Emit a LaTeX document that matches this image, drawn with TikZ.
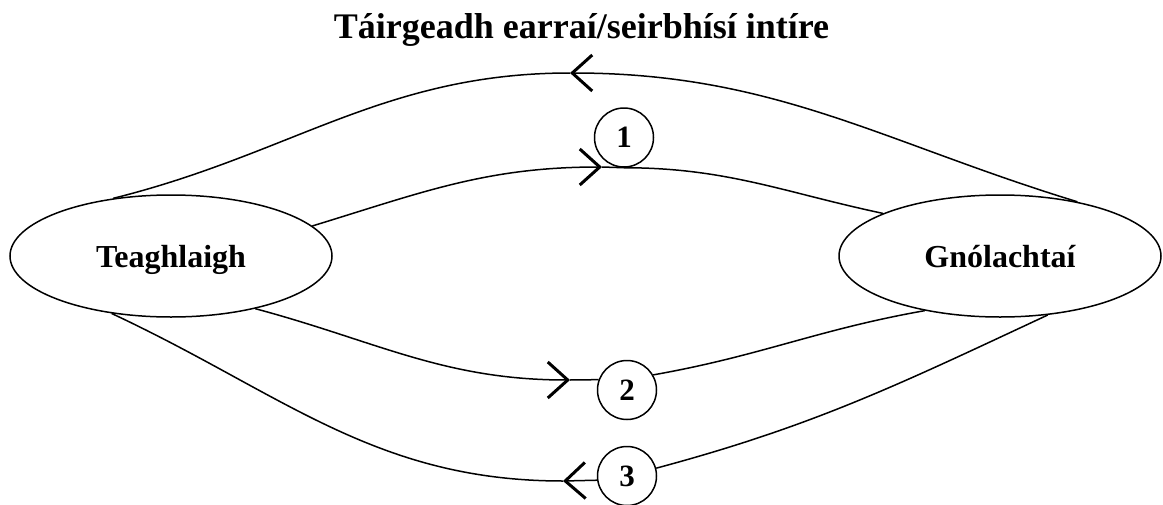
\documentclass[tikz,border=0pt]{standalone}
\usepackage{fontspec}
\setmainfont{Liberation Serif}
\usetikzlibrary{arrows.meta,shapes.geometric}

\begin{document}
\begin{tikzpicture}[x=0.5pt, y=-0.5pt,
        >={Straight Barb[length=10pt, width=18pt, line width=1.5pt]},
        flow/.style={line width=0.75pt},
        party/.style={draw, ellipse, line width=0.75pt, minimum width=161pt,
            minimum height=61pt, inner sep=0pt, text depth=0pt,
            font=\fontsize{16}{19}\selectfont\bfseries},
        num/.style={draw, circle, line width=0.75pt, minimum size=29.5pt,
            inner sep=0pt, font=\fontsize{15.5}{18}\selectfont\bfseries}]
        \useasboundingbox (0,0) rectangle (1163,504);

        \node [anchor=base, font=\fontsize{18}{22}\selectfont\bfseries] (title) at (581.5,38)
            {Táirgeadh earraí/seirbhísí intíre};
        \node [party] (home) at (171,256) {Teaghlaigh};
        \node [party] (firm) at (1000,256) {Gnólachtaí};
        \node [num] (one) at (624,137.5) {1};
        \node [num] (two) at (627,390) {2};
        \node [num] (three) at (627,476) {3};

        \coordinate (top) at (570,73);
        \coordinate (tipone) at (602,167);
        \coordinate (tiptwo) at (570,380);
        \coordinate (tipthree) at (563,481);

        \draw [flow, ->] (firm.35) to [out=163, in=0] (top);
        \draw [flow] (top) to [out=180, in=14] (home.135);

        \draw [flow, ->] (home.12) to [out=17, in=180] (tipone);
        \draw [flow] (tipone) -- (one.south) to [out=0, in=168] (firm.160);

        \draw [flow, ->] (home.-32) to [out=-15, in=180] (tiptwo);
        \draw [flow] (tiptwo) -- (two.160);
        \draw [flow] (two.30) to [out=10, in=190] (firm.-144);

        \draw [flow, ->] (three.188) -- (tipthree);
        \draw [flow] (tipthree) to [out=180, in=-25] (home.-136);
        \draw [flow] (three.15) to [out=15, in=-155] (firm.-51);
    \end{tikzpicture}
\end{document}
